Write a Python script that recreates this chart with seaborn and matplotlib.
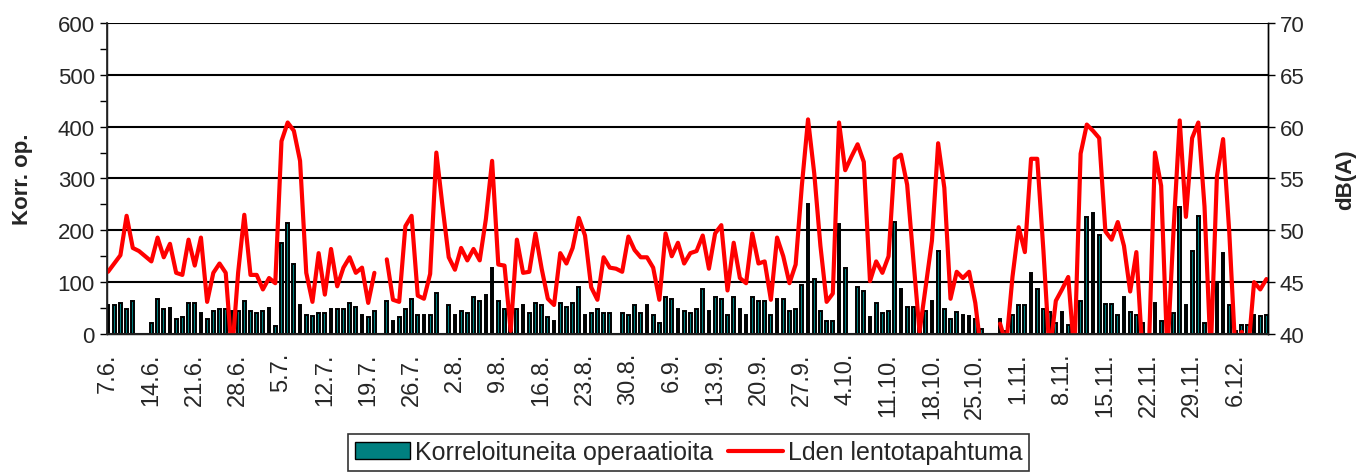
import numpy as np
import pandas as pd
import matplotlib
matplotlib.use("Agg")
import matplotlib.pyplot as plt
import seaborn as sns
from matplotlib.patches import Patch
from matplotlib.lines import Line2D

nan = np.nan

# Päivittäiset arvot 7.6. - 11.12.
korr = [
    56, 56, 60, 48, 63, nan, nan, 21, 67, 48, 51, 29, 33, 60, 60, 40, 29, 44, 48, 48,
    45, 44, 63, 44, 40, 44, 51, 15, 175, 215, 136, 56, 37, 34, 40, 40, 48, 48, 48, 60,
    52, 37, 33, 44, nan, 63, 25, 33, 48, 67, 37, 37, 37, 79, nan, 56, 37, 44, 40, 71,
    63, 75, 128, 63, 48, 45, 48, 56, 40, 60, 56, 33, 25, 60, 52, 60, 90, 37, 40, 48,
    40, 40, nan, 40, 37, 56, 40, 56, 37, 21, 71, 67, 48, 44, 40, 48, 87, 44, 71, 67,
    37, 71, 48, 37, 71, 63, 63, 37, 67, 67, 44, 48, 94, 250, 106, 44, 25, 25, 213, 128,
    nan, 90, 83, 33, 60, 40, 44, 217, 87, 52, 52, 25, 44, 63, 161, 48, 29, 42, 37, 34,
    29, 10, nan, nan, 29, 6, 37, 56, 56, 118, 87, 48, 42, 21, 42, 17, 17, 64, 225, 233,
    191, 57, 57, 37, 71, 42, 37, 21, nan, 60, 26, 20, 40, 245, 56, 161, 228, 21, 20, 100,
    156, 56, 6, 17, 17, 37, 34, 37,
]

lden = [
    46.0, 46.8, 47.6, 51.4, 48.3, 48.0, 47.5, 47.0, 49.3, 47.4, 48.7, 45.9, 45.7, 49.1, 46.6, 49.3, 43.1, 45.9, 46.8, 45.9,
    38.0, 45.9, 51.5, 45.7, 45.7, 44.3, 45.4, 44.9, 58.6, 60.4, 59.6, 56.7, 45.9, 43.1, 47.8, 43.8, 48.2, 44.6, 46.4, 47.4,
    45.9, 46.4, 43.0, 45.9, nan, 47.2, 43.3, 43.1, 50.4, 51.4, 43.7, 43.4, 45.8, 57.5, 52.3, 47.4, 46.2, 48.3, 47.1, 48.2,
    47.1, 51.1, 56.7, 46.7, 46.6, 40.3, 49.1, 45.9, 46.0, 49.7, 46.3, 43.4, 42.8, 47.8, 46.8, 48.3, 51.2, 49.5, 44.5, 43.3,
    47.4, 46.4, 46.3, 46.0, 49.4, 48.1, 47.4, 47.4, 46.4, 43.3, 49.7, 47.5, 48.8, 46.8, 47.8, 48.0, 49.5, 46.3, 49.7, 50.5,
    44.2, 48.8, 45.4, 44.9, 49.7, 46.8, 47.0, 43.3, 49.3, 47.5, 44.9, 46.7, 54.3, 60.7, 55.5, 48.5, 43.1, 43.9, 60.4, 55.8,
    57.1, 58.3, 56.6, 45.1, 47.0, 45.9, 47.5, 56.9, 57.3, 54.4, 47.2, 40.2, 44.6, 49.0, 58.4, 54.1, 43.4, 46.0, 45.4, 46.0,
    43.0, 38.0, nan, nan, 41.0, 39.0, 45.5, 50.3, 47.9, 56.9, 56.9, 48.0, 38.0, 43.2, 44.3, 45.5, 38.0, 57.4, 60.2, 59.6,
    58.9, 49.9, 49.1, 50.8, 48.5, 44.1, 47.9, 38.0, 38.0, 57.5, 54.3, 38.0, 50.0, 60.6, 51.3, 58.9, 60.4, 52.3, 38.0, 55.2,
    58.8, 49.8, 38.0, 40.2, 38.0, 45.0, 44.3, 45.3,
]

tick_labels = ["7.6.", "14.6.", "21.6.", "28.6.", "5.7.", "12.7.", "19.7.", "26.7.",
               "2.8.", "9.8.", "16.8.", "23.8.", "30.8.", "6.9.", "13.9.", "20.9.",
               "27.9.", "4.10.", "11.10.", "18.10.", "25.10.", "1.11.", "8.11.",
               "15.11.", "22.11.", "29.11.", "6.12."]

TEAL = "#008080"
RED = "#ff0000"

sns.set_theme(style="white")
plt.rcParams["font.family"] = ["Liberation Sans", "DejaVu Sans"]

df = pd.DataFrame({"day": np.arange(len(korr)), "korr": korr, "lden": lden})
bars = df.dropna(subset=["korr"])
line = df.copy()
line["seg"] = line["lden"].isna().cumsum()
line = line.dropna(subset=["lden"])

fig = plt.figure(figsize=(13.69, 4.77), dpi=100)
ax = fig.add_axes([0.078, 0.2977, 0.848, 0.652])

sns.barplot(data=bars, x="day", y="korr", native_scale=True, color=TEAL,
            saturation=1, edgecolor="black", linewidth=1.4, width=0.45,
            errorbar=None, ax=ax)

ax.set_xlim(-0.2, len(korr) - 0.8)
ax.set_ylim(0, 600)
ax.set_yticks(range(0, 601, 100))
ax.set_yticks(range(50, 600, 100), minor=True)
ax.set_xticks(range(0, 183, 7))
ax.set_xticklabels(tick_labels, rotation=90)
ax.set_xticks(range(len(korr)), minor=True)
ax.tick_params(axis="both", which="both", direction="out", color="black",
               length=5, width=1, labelsize=16)
ax.tick_params(axis="x", which="minor", length=4)
ax.tick_params(axis="x", which="major", pad=8, labelsize=17)
ax.yaxis.grid(True, which="major", color="black", lw=1.5)
ax.set_axisbelow(True)
ax.set_xlabel("")
ax.set_ylabel("Korr. op.", fontsize=16, fontweight="bold", labelpad=18)
for s in ["left", "bottom", "right"]:
    ax.spines[s].set_color("black")
    ax.spines[s].set_linewidth(1)
ax.spines["top"].set_visible(False)

ax2 = ax.twinx()
sns.lineplot(data=line, x="day", y="lden", units="seg", estimator=None,
             color=RED, lw=3, legend=False, ax=ax2)
ax2.set_ylim(40, 70)
ax2.set_yticks(range(40, 71, 5))
ax2.tick_params(axis="y", direction="out", length=5, width=1, color="black",
                labelsize=16)
ax2.set_xlabel("")
ax2.set_ylabel("dB(A)", fontsize=16, fontweight="bold", labelpad=22)
ax2.spines["top"].set_visible(False)
ax2.spines["right"].set_color("black")
ax2.spines["right"].set_linewidth(1)
ax2.set_xlim(ax.get_xlim())

handles = [Patch(facecolor=TEAL, edgecolor="black", lw=1),
           Line2D([], [], color=RED, lw=3)]
leg = fig.legend(handles, ["Korreloituneita operaatioita", "Lden lentotapahtuma"],
                 loc="upper center", bbox_to_anchor=(0.503, 0.088), ncol=2,
                 fontsize=18, frameon=True, fancybox=False, edgecolor="black",
                 handlelength=2.2, handletextpad=0.2, columnspacing=0.6,
                 borderpad=0.25, borderaxespad=0)
leg.get_frame().set_linewidth(1.2)

fig.savefig("out.png", dpi=100)
